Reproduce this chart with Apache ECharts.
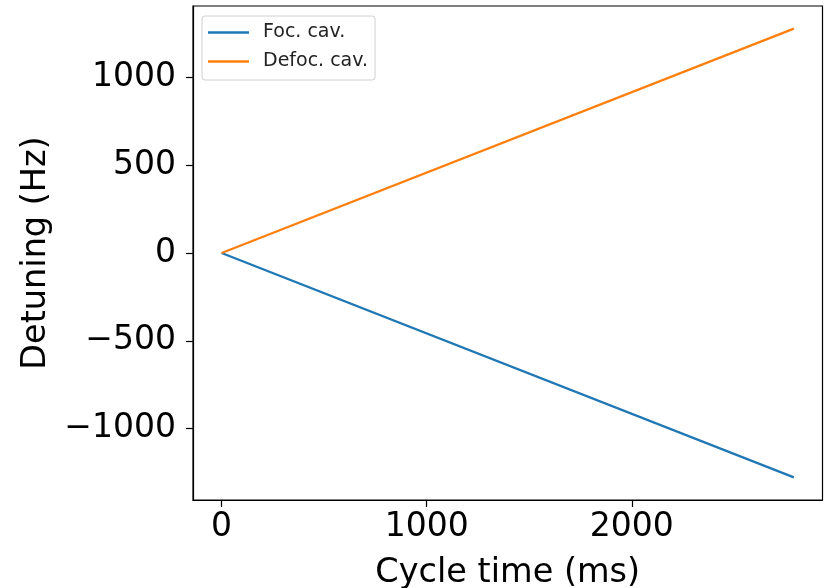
<!DOCTYPE html>
<html>
<head>
<meta charset="utf-8">
<script src="https://cdn.jsdelivr.net/npm/echarts@6/dist/echarts.min.js"></script>
<style>
  html, body { margin: 0; padding: 0; background: #fff; }
  #chart { width: 833px; height: 588px; }
</style>
</head>
<body>
<div id="chart"></div>
<script>
var seriesNames = ['Foc. cav.', 'Defoc. cav.'];
var cycleTime = [0, 2790];          // ms
var focDetuning = [0, -1278];       // Hz
var defocDetuning = [0, 1278];      // Hz
var xTicks = [0, 1000, 2000];
var yTicks = [-1000, -500, 0, 500, 1000];

var font = 'DejaVu Sans';
var chart = echarts.init(document.getElementById('chart'));

function pairs(xs, ys) {
	return xs.map(function (x, i) { return [x, ys[i]]; });
}
function minus(v) {
	return String(v).replace('-', '\u2212');
}

var option = {
	animation: false,
	grid: {
		left: 193, right: 10.5, top: 6, bottom: 88,
		outerBoundsMode: 'none',
		containLabel: false,
		show: true, borderColor: '#000', borderWidth: 1.2
	},
	legend: {
		orient: 'vertical',
		left: 202, top: 16,
		padding: [7, 7, 9, 6],
		itemWidth: 41, itemHeight: 2.5, itemGap: 10,
		icon: 'rect',
		borderColor: '#d0d0d0', borderWidth: 1, borderRadius: 3,
		textStyle: { fontFamily: font, fontSize: 19, color: '#222', padding: [0, 0, 0, 9] },
		data: seriesNames
	},
	xAxis: {
		type: 'value',
		min: -139.5, max: 2929.5,
		name: 'Cycle time (ms)',
		nameLocation: 'middle',
		nameGap: 56,
		nameTextStyle: { fontFamily: font, fontSize: 33.5, color: '#000' },
		axisLine: { show: true, onZero: false, lineStyle: { color: '#000', width: 1.2 } },
		axisTick: { show: true, length: 7, customValues: xTicks, lineStyle: { color: '#000', width: 1.2 } },
		axisLabel: { customValues: xTicks, margin: 11, fontFamily: font, fontSize: 33, color: '#000', formatter: minus },
		splitLine: { show: false }
	},
	yAxis: {
		type: 'value',
		min: -1407, max: 1407,
		name: 'Detuning (Hz)',
		nameLocation: 'middle',
		nameGap: 136,
		nameTextStyle: { fontFamily: font, fontSize: 33.5, color: '#000' },
		axisLine: { show: true, onZero: false, lineStyle: { color: '#000', width: 1.2 } },
		axisTick: { show: true, length: 7, customValues: yTicks, lineStyle: { color: '#000', width: 1.2 } },
		axisLabel: { customValues: yTicks, margin: 17, fontFamily: font, fontSize: 33, color: '#000', formatter: minus },
		splitLine: { show: false }
	},
	series: [
		{
			name: seriesNames[0], type: 'line', symbol: 'none',
			data: pairs(cycleTime, focDetuning),
			lineStyle: { color: '#1f77b4', width: 2.3 },
			itemStyle: { color: '#1f77b4' }
		},
		{
			name: seriesNames[1], type: 'line', symbol: 'none',
			data: pairs(cycleTime, defocDetuning),
			lineStyle: { color: '#ff7f0e', width: 2.3 },
			itemStyle: { color: '#ff7f0e' }
		}
	]
};
chart.setOption(option);
</script>
</body>
</html>
